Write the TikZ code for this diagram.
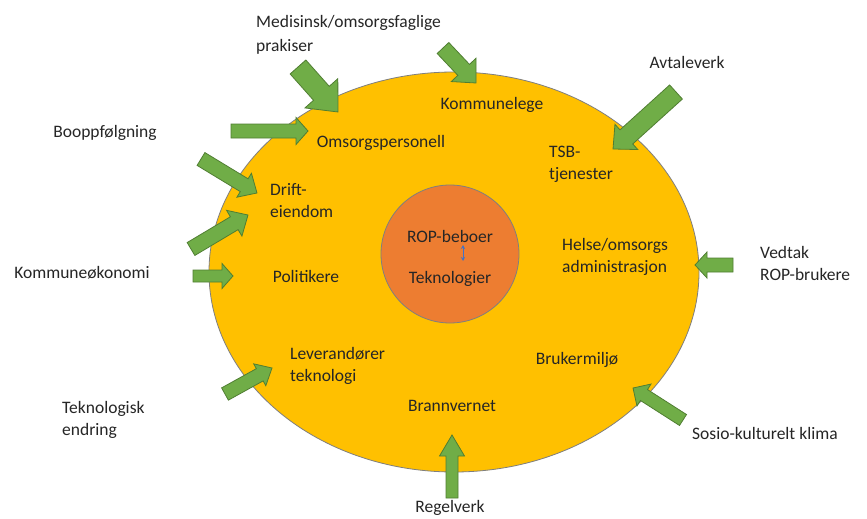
\documentclass[tikz,border=0pt]{standalone}
\usepackage{fontspec}
\setmainfont{Carlito}
\usetikzlibrary{arrows.meta}
\definecolor{gold}{HTML}{FFC000}
\definecolor{orng}{HTML}{ED7D31}
\definecolor{grn}{HTML}{70AD47}
\definecolor{grnd}{HTML}{507E32}
\definecolor{edge}{HTML}{7F7F7F}
\definecolor{txt}{HTML}{262626}
\definecolor{blu}{HTML}{4472C4}
\tikzset{
  garrow/.style={fill=grn,draw=grnd,line width=0.8pt,line join=miter},
  lbl/.style={text=txt,font=\fontsize{17.5}{22}\selectfont,inner sep=0pt},
  lbll/.style={lbl,align=left,anchor=west},
}
\newcommand\barrow[7]{%
  \pgfmathsetmacro\bAng{atan2(#2-#4,#3-#1)}%
  \pgfmathsetmacro\bLen{veclen(#3-#1,#4-#2)}%
  \pgfmathsetmacro\bSl{\bLen-#7}%
  \draw[garrow,shift={(#1,#2)},rotate=\bAng]
    (0,-#5) -- (\bSl,-#5) -- (\bSl,-#6) -- (\bLen,0) -- (\bSl,#6) -- (\bSl,#5) -- (0,#5) -- cycle;
}
\begin{document}
\begin{tikzpicture}[x=1pt,y=-1pt]
\useasboundingbox (0,0) rectangle (867,519);
\fill[white] (0,0) rectangle (867,519);
% big ellipse
\draw[fill=gold,draw=edge,line width=0.8pt] (454,272) ellipse [x radius=245, y radius=200];
% inner circle
\draw[fill=orng,draw=edge,line width=0.8pt] (450,254) circle [radius=69];
% arrows
\barrow{298}{67}{338}{112}{10.5}{22}{25}
\barrow{443}{48}{476}{83}{8}{17}{18}
\barrow{231}{131}{308}{131}{7}{13.5}{12}
\barrow{676}{92}{613}{149}{9.5}{17}{18}
\barrow{201}{159}{257}{193}{7.5}{14}{15}
\barrow{191}{249}{248}{215}{7.5}{15}{16}
\barrow{193}{276}{233}{276}{6}{12.5}{11}
\barrow{225}{394}{272}{368}{7}{12.5}{14}
\barrow{452}{498}{452}{435}{6}{12.5}{21}
\barrow{683}{420}{633}{388}{6.5}{13}{13}
\barrow{733}{265}{695}{265}{7}{13}{12}
% labels
\node[lbll,font=\fontsize{17.5}{24.5}\selectfont] (med) at (256,35) {Medisinsk/omsorgsfaglige\\prakiser};
\node[lbl] (kom) at (492,105) {Kommunelege};
\node[lbl] (avt) at (687,62) {Avtaleverk};
\node[lbl] (boo) at (105,133) {Booppfølgning};
\node[lbl] (oms) at (381,143) {Omsorgspersonell};
\node[lbll] (tsb) at (549,164) {TSB-\\tjenester};
\node[lbll] (dri) at (270,201) {Drift-\\eiendom};
\node[lbl] (rop) at (450,236) {ROP-beboer};
\node[lbl] (tek) at (450,279) {Teknologier};
\node[lbll] (hel) at (562,257) {Helse/omsorgs\\administrasjon};
\node[lbll] (ved) at (760,263) {Vedtak\\ROP-brukere};
\node[lbl] (koe) at (82,273) {Kommuneøkonomi};
\node[lbl] (pol) at (306,276) {Politikere};
\node[lbll] (lev) at (290,366) {Leverandører\\teknologi};
\node[lbl] (bru) at (577,360) {Brukermiljø};
\node[lbll] (tkn) at (62,420) {Teknologisk\\endring};
\node[lbl] (bra) at (452,406) {Brannvernet};
\node[lbll] (sos) at (692,433) {Sosio-kulturelt klima};
\node[lbl] (reg) at (450,508) {Regelverk};
% small double arrow
\coordinate (ua) at (463,245);
\coordinate (ub) at (463,261);
\draw[blu,line width=0.7pt,{Stealth[length=4pt,width=4pt]}-{Stealth[length=4pt,width=4pt]}] (ua) -- (ub);
\end{tikzpicture}
\end{document}
